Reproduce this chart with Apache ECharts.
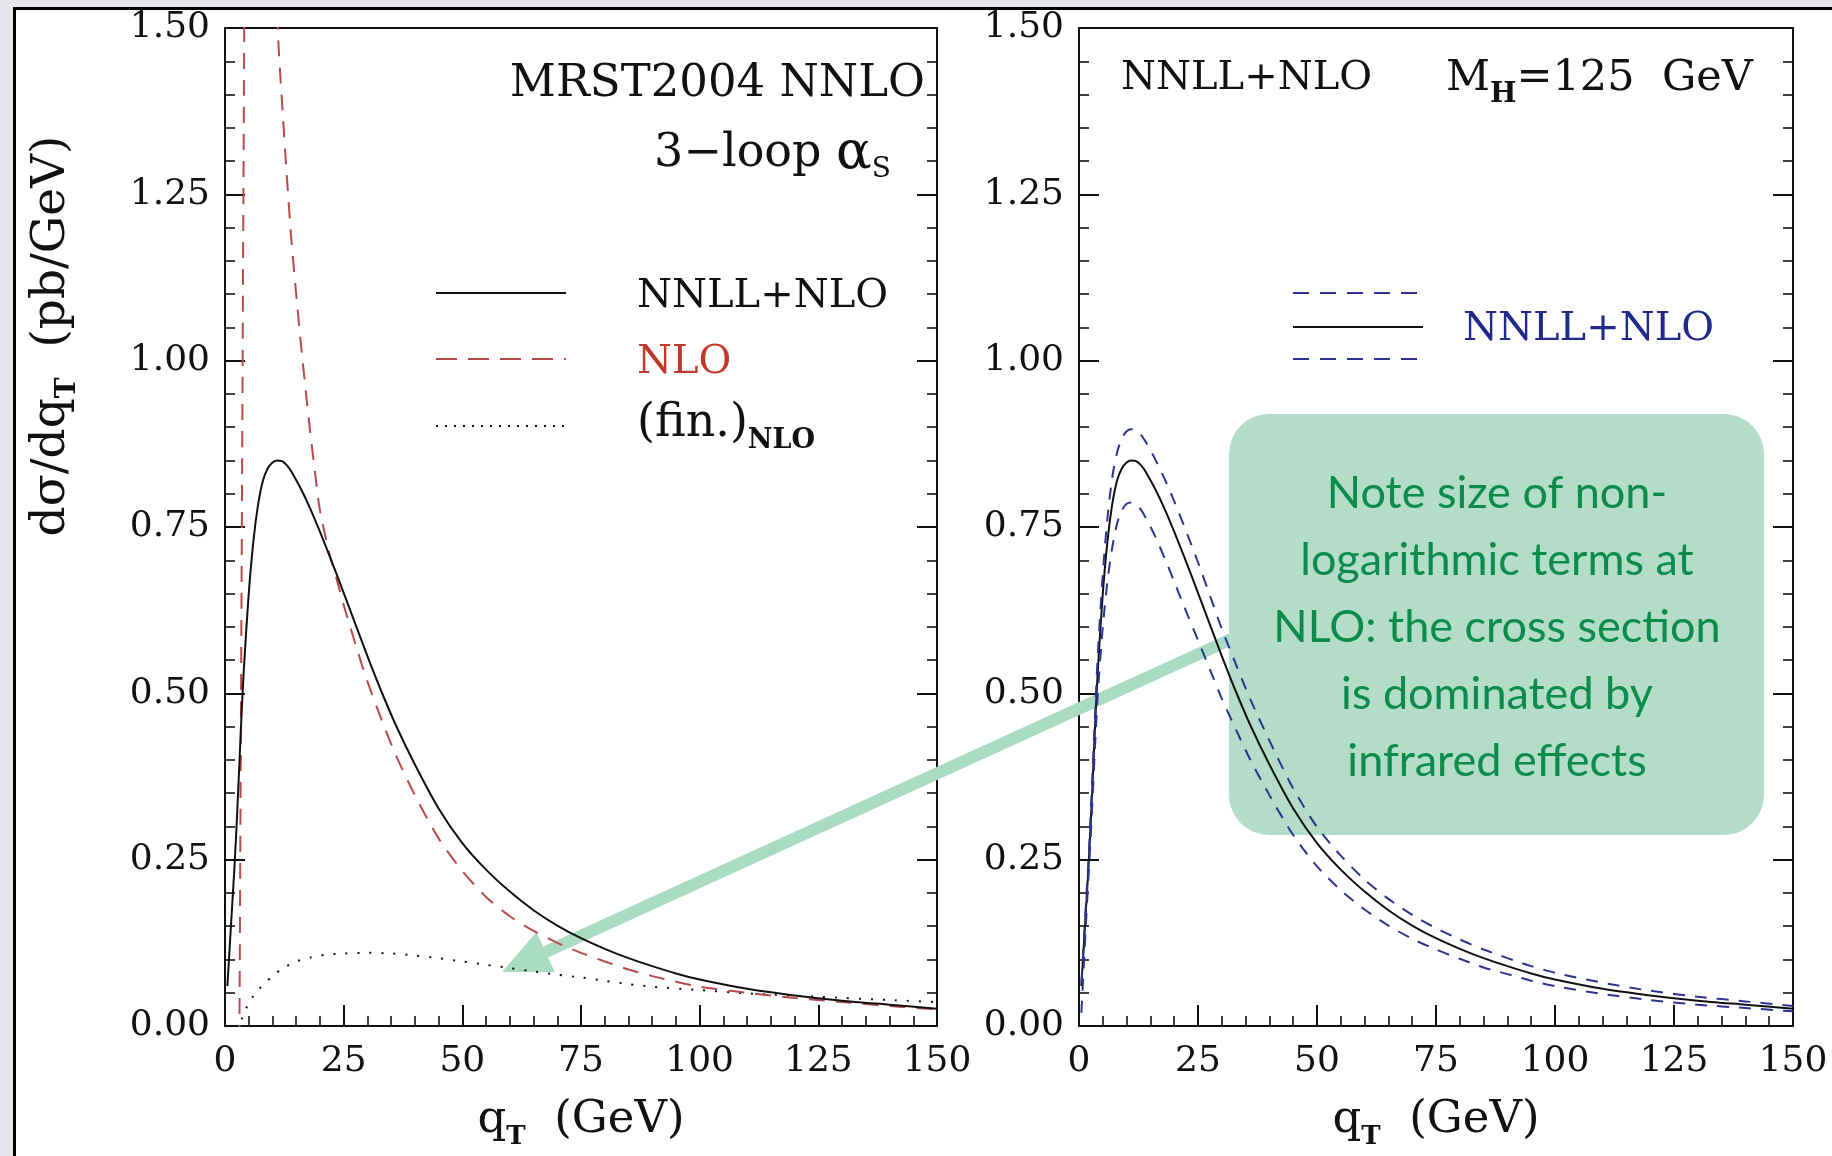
<!DOCTYPE html>
<html>
<head>
<meta charset="utf-8">
<script src="https://cdn.jsdelivr.net/npm/echarts@6/dist/echarts.min.js"></script>
<style>
html,body{margin:0;padding:0;background:#fff;}
#chart{width:1832px;height:1156px;}
</style>
</head>
<body>
<div id="chart"></div>
<script>
// ---------- data ----------
const xTicks = [0, 25, 50, 75, 100, 125, 150];
const yTicks = [0, 0.25, 0.5, 0.75, 1.0, 1.25, 1.5];

// NNLL+NLO (central), shared by both panels
const qT = [0.5, 1, 1.5, 2, 2.5, 3, 3.5, 4, 5, 6, 7, 8, 9, 10, 11, 12, 13, 14, 16, 18, 20, 22, 25, 28, 30, 33, 36, 40, 45, 50, 55, 60, 65, 70, 75, 80, 85, 90, 95, 100, 110, 120, 130, 140, 150];
const nnll = [0.06, 0.12, 0.18, 0.24, 0.31, 0.39, 0.47, 0.54, 0.65, 0.73, 0.785, 0.82, 0.838, 0.847, 0.85, 0.849, 0.843, 0.833, 0.807, 0.777, 0.743, 0.707, 0.651, 0.594, 0.556, 0.502, 0.452, 0.393, 0.327, 0.275, 0.235, 0.202, 0.174, 0.151, 0.132, 0.116, 0.102, 0.090, 0.079, 0.070, 0.056, 0.046, 0.038, 0.032, 0.026];
// scale-variation band (right panel)
const nnllUp = [0.065, 0.125, 0.19, 0.25, 0.325, 0.405, 0.49, 0.565, 0.68, 0.765, 0.825, 0.862, 0.883, 0.894, 0.897, 0.896, 0.889, 0.878, 0.852, 0.822, 0.789, 0.753, 0.697, 0.637, 0.597, 0.543, 0.491, 0.429, 0.357, 0.299, 0.256, 0.220, 0.191, 0.167, 0.147, 0.130, 0.115, 0.102, 0.090, 0.080, 0.065, 0.053, 0.044, 0.037, 0.030];
const nnllLo = [0.02, 0.09, 0.16, 0.225, 0.29, 0.365, 0.44, 0.505, 0.6, 0.67, 0.72, 0.755, 0.775, 0.785, 0.787, 0.784, 0.776, 0.764, 0.736, 0.703, 0.668, 0.632, 0.58, 0.527, 0.492, 0.445, 0.400, 0.347, 0.287, 0.240, 0.204, 0.175, 0.151, 0.131, 0.115, 0.101, 0.088, 0.078, 0.068, 0.060, 0.048, 0.039, 0.032, 0.027, 0.022];

// fixed-order NLO (left panel)
const qtNLO = [2.4, 2.8, 3.05, 3.3, 3.55, 3.8, 4.05, 4.4, 5, 7, 9, 10, 11.1, 12, 13, 14, 15, 16, 17, 18, 19, 20, 22, 23.4, 25, 28, 30, 33, 36, 40, 45, 50, 55, 60, 65, 70, 75, 80, 85, 90, 100, 110, 120, 125, 130, 140, 150];
const nlo = [-0.55, -0.38, 0.0, 0.38, 0.75, 1.13, 1.5, 2.0, 2.6, 2.9, 2.2, 1.8, 1.5, 1.39, 1.28, 1.18, 1.1, 1.025, 0.955, 0.89, 0.83, 0.775, 0.71, 0.675, 0.633, 0.562, 0.518, 0.46, 0.407, 0.347, 0.282, 0.233, 0.194, 0.165, 0.143, 0.125, 0.11, 0.097, 0.085, 0.075, 0.059, 0.05, 0.042, 0.039, 0.036, 0.03, 0.025];

// (fin.)_NLO (left panel)
const qtFin = [3.5, 5, 6, 8, 10, 12, 15, 18, 21, 25, 30, 35, 40, 45, 50, 55, 60, 65, 70, 75, 80, 85, 90, 100, 110, 125, 140, 150];
const fin = [0.01, 0.035, 0.045, 0.062, 0.075, 0.086, 0.097, 0.103, 0.107, 0.109, 0.11, 0.109, 0.106, 0.102, 0.097, 0.092, 0.087, 0.082, 0.077, 0.073, 0.068, 0.063, 0.059, 0.054, 0.049, 0.044, 0.039, 0.036];

// ---------- styling ----------
const SERIF = 'DejaVu Serif';
const INK = '#111';
const RED = '#b94a4c';
const BLUE = '#2b3590';
const GREEN_BOX = '#b3dcc9';
const GREEN_TXT = '#0b8c4c';

const pairs = (xs, ys) => xs.map((x, i) => [x, ys[i]]);

function xAxesFor(gi) {
  return [
    {
      gridIndex: gi, type: 'value', min: 0, max: 150, interval: 25, position: 'bottom',
      axisLine: { show: true, onZero: false, lineStyle: { color: INK, width: 2 } },
      axisTick: { show: true, inside: true, length: 21, lineStyle: { color: INK, width: 2 } },
      minorTick: { show: true, splitNumber: 5, length: 10, lineStyle: { color: INK, width: 1.6 } },
      axisLabel: { show: true, margin: 18, fontFamily: SERIF, fontSize: 36, color: INK,
        formatter: v => (xTicks.includes(v) ? String(v) : '') },
      splitLine: { show: false }, minorSplitLine: { show: false },
      name: '{m|q}{s|T}{m|  (GeV)}', nameLocation: 'middle', nameGap: 64,
      nameTextStyle: {
        rich: {
          m: { fontFamily: SERIF, fontSize: 45, lineHeight: 60, color: INK },
          s: { fontFamily: SERIF, fontSize: 26, fontWeight: 'bold', lineHeight: 26, verticalAlign: 'bottom', color: INK }
        }
      }
    },
    {
      gridIndex: gi, type: 'value', min: 0, max: 150, interval: 25, position: 'top',
      axisLine: { show: true, onZero: false, lineStyle: { color: INK, width: 2 } },
      axisTick: { show: false }, axisLabel: { show: false }, splitLine: { show: false }
    }
  ];
}
function yAxesFor(gi) {
  return [
    {
      gridIndex: gi, type: 'value', min: 0, max: 1.5, interval: 0.25, position: 'left',
      axisLine: { show: true, onZero: false, lineStyle: { color: INK, width: 2 } },
      axisTick: { show: true, inside: true, length: 20, lineStyle: { color: INK, width: 2 } },
      minorTick: { show: true, splitNumber: 5, length: 10, lineStyle: { color: INK, width: 1.6 } },
      axisLabel: { show: true, margin: 15, fontFamily: SERIF, fontSize: 36, color: INK,
        formatter: v => v.toFixed(2) },
      splitLine: { show: false }, minorSplitLine: { show: false }
    },
    {
      gridIndex: gi, type: 'value', min: 0, max: 1.5, interval: 0.25, position: 'right',
      axisLine: { show: true, onZero: false, lineStyle: { color: INK, width: 2 } },
      axisTick: { show: true, inside: true, length: 20, lineStyle: { color: INK, width: 2 } },
      minorTick: { show: true, splitNumber: 5, length: 10, lineStyle: { color: INK, width: 1.6 } },
      axisLabel: { show: false }, splitLine: { show: false }, minorSplitLine: { show: false }
    }
  ];
}

function lineSeries(xi, yi, data, color, width, dash, z) {
  return {
    type: 'line', xAxisIndex: xi, yAxisIndex: yi, data: data,
    showSymbol: false, symbol: 'none', smooth: 0.25, clip: true, z: z || 3,
    lineStyle: { color: color, width: width, type: dash },
    emphasis: { disabled: true }, silent: true, animation: false
  };
}

function gText(x, y, text, rich, align, extra) {
  return Object.assign({
    type: 'text', x: x, y: y, z: 10, silent: true,
    style: { text: text, rich: rich, align: align || 'left', verticalAlign: 'middle' }
  }, extra || {});
}
const richPlot = (col, size, sub) => ({
  m: { fontFamily: SERIF, fontSize: size || 42, lineHeight: 60, fill: col || INK },
  a: { fontFamily: SERIF, fontSize: (size || 42) * 1.15, lineHeight: 60, fill: col || INK },
  s: { fontFamily: SERIF, fontSize: sub || 26, lineHeight: 26, verticalAlign: 'bottom', fill: col || INK },
  b: { fontFamily: SERIF, fontSize: sub || 26, fontWeight: 'bold', lineHeight: 26, verticalAlign: 'bottom', fill: col || INK }
});

// arrow geometry (annotation)
const tip = [502, 972], tail = [1236, 637];
const ux = (tip[0] - tail[0]), uy = (tip[1] - tail[1]);
const ulen = Math.hypot(ux, uy);
const dx = ux / ulen, dy = uy / ulen;
const headL = 48, headW = 22;
const base = [tip[0] - dx * headL, tip[1] - dy * headL];
const c1 = [base[0] - dy * headW, base[1] + dx * headW];
const c2 = [base[0] + dy * headW, base[1] - dx * headW];

const option = {
  backgroundColor: '#ffffff',
  animation: false,
  grid: [
    { left: 225, top: 28, width: 712, height: 998, containLabel: false },
    { left: 1079, top: 28, width: 714, height: 998, containLabel: false }
  ],
  xAxis: [...xAxesFor(0), ...xAxesFor(1)],
  yAxis: [...yAxesFor(0), ...yAxesFor(1)],
  series: [
    // left panel
    lineSeries(0, 0, pairs(qtFin, fin), INK, 2, [2, 10]),
    lineSeries(0, 0, pairs(qtNLO, nlo), RED, 2, [16, 11]),
    lineSeries(0, 0, pairs(qT, nnll), INK, 2, 'solid', 4),
    // right panel
    lineSeries(2, 2, pairs(qT, nnll), INK, 2, 'solid'),
    lineSeries(2, 2, pairs(qT, nnllUp), BLUE, 2, [12, 10], 4),
    lineSeries(2, 2, pairs(qT, nnllLo), BLUE, 2, [12, 10], 4)
  ],
  graphic: [
    // page frame (slide border)
    { type: 'rect', shape: { x: 0, y: 0, width: 1832, height: 8 }, style: { fill: '#e4e6e9' }, z: 0, silent: true },
    { type: 'rect', shape: { x: 0, y: 0, width: 13, height: 1156 }, style: { fill: '#e4e6e9' }, z: 0, silent: true },
    { type: 'line', shape: { x1: 14.5, y1: 8, x2: 14.5, y2: 1156 }, style: { stroke: '#000', lineWidth: 3 }, z: 0, silent: true },
    { type: 'line', shape: { x1: 13, y1: 8.5, x2: 1832, y2: 8.5 }, style: { stroke: '#000', lineWidth: 3 }, z: 0, silent: true },

    // y-axis title (left)
    gText(52, 336, '{m|dσ/dq}{b|T}{m|  (pb/GeV)}', richPlot(INK, 47, 28), 'center', { rotation: Math.PI / 2 }),

    // left panel annotations
    gText(925, 84, '{m|MRST2004 NNLO}', richPlot(INK, 45), 'right'),
    gText(891, 154, '{m|3−loop }{a|α}{s|S}', richPlot(INK, 46, 28), 'right'),
    // left legend
    { type: 'line', shape: { x1: 436, y1: 293, x2: 566, y2: 293 }, style: { stroke: INK, lineWidth: 2 }, z: 10, silent: true },
    { type: 'line', shape: { x1: 436, y1: 359, x2: 566, y2: 359 }, style: { stroke: RED, lineWidth: 2, lineDash: [21, 11] }, z: 10, silent: true },
    { type: 'line', shape: { x1: 436, y1: 426, x2: 566, y2: 426 }, style: { stroke: INK, lineWidth: 2, lineDash: [2, 7] }, z: 10, silent: true },
    gText(637, 297, '{m|NNLL+NLO}', richPlot(INK, 40)),
    gText(637, 363, '{m|NLO}', richPlot('#c0392b', 40)),
    gText(637, 424, '{m|(fin.)}{b|NLO}', richPlot(INK, 46, 27)),

    // right panel annotations
    gText(1121, 79, '{m|NNLL+NLO}', richPlot(INK, 40)),
    gText(1446, 79, '{m|M}{b|H}{m|=125  GeV}', richPlot(INK, 43, 28)),
    // right legend
    { type: 'line', shape: { x1: 1293, y1: 293, x2: 1423, y2: 293 }, style: { stroke: BLUE, lineWidth: 2, lineDash: [16, 11] }, z: 10, silent: true },
    { type: 'line', shape: { x1: 1293, y1: 327, x2: 1423, y2: 327 }, style: { stroke: INK, lineWidth: 2 }, z: 10, silent: true },
    { type: 'line', shape: { x1: 1293, y1: 359, x2: 1423, y2: 359 }, style: { stroke: BLUE, lineWidth: 2, lineDash: [16, 11] }, z: 10, silent: true },
    gText(1463, 330, '{m|NNLL+NLO}', richPlot('#1f2a8c', 40)),

    // green note box + arrow
    { type: 'line', shape: { x1: tail[0], y1: tail[1], x2: base[0], y2: base[1] }, style: { stroke: '#a9dbc3', lineWidth: 12 }, z: 1, silent: true },
    { type: 'polygon', shape: { points: [tip, c1, c2] }, style: { fill: '#a9dbc3' }, z: 1, silent: true },
    { type: 'rect', shape: { x: 1229, y: 414, width: 535, height: 421, r: 40 }, style: { fill: GREEN_BOX }, z: 1, silent: true },
    {
      type: 'text', x: 1497, y: 627, z: 10, silent: true,
      style: {
        text: 'Note size of non-\nlogarithmic terms at\nNLO: the cross section\nis dominated by\ninfrared effects',
        fontFamily: 'Lato', fontSize: 45, lineHeight: 67, fill: GREEN_TXT,
        align: 'center', verticalAlign: 'middle'
      }
    }
  ]
};

const chart = echarts.init(document.getElementById('chart'), null, { renderer: 'canvas', width: 1832, height: 1156 });
chart.setOption(option);
</script>
</body>
</html>
